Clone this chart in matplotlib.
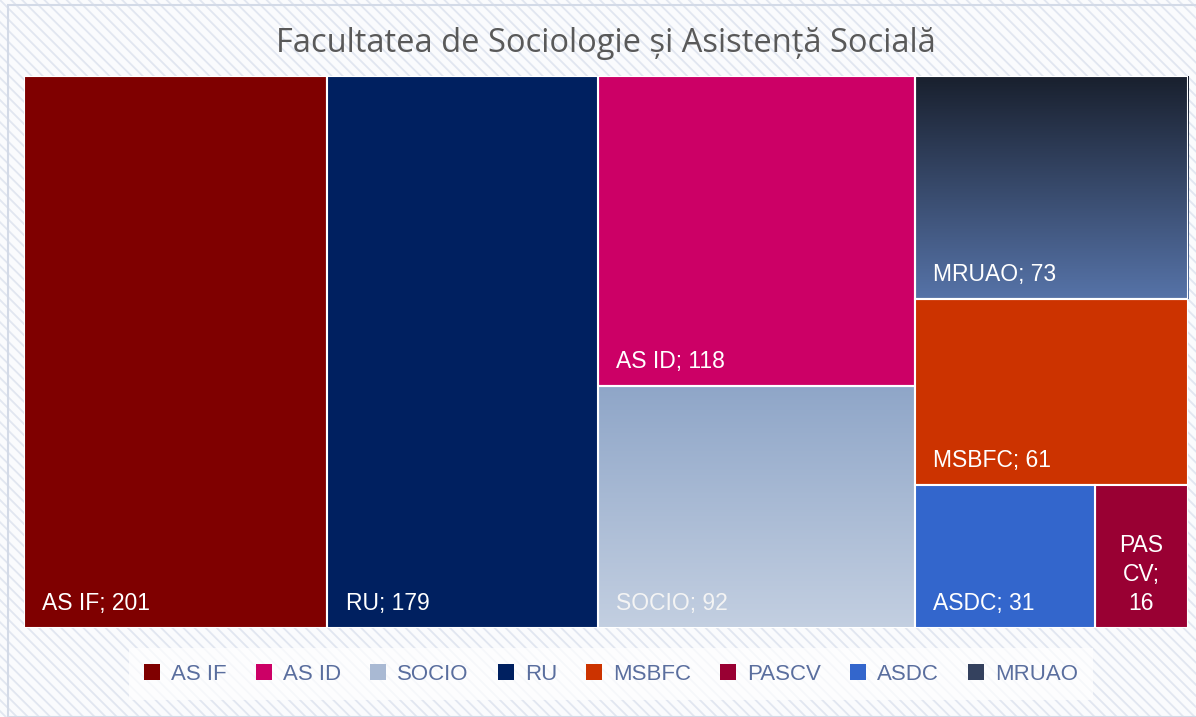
import matplotlib.pyplot as plt
from matplotlib.patches import Rectangle, Patch
import numpy as np

plt.rcParams['font.family'] = ['Liberation Sans', 'DejaVu Sans']
plt.rcParams['hatch.linewidth'] = 1.3

# data
names = ["AS IF", "AS ID", "SOCIO", "RU", "MSBFC", "PASCV", "ASDC", "MRUAO"]
values = [201, 118, 92, 179, 61, 16, 31, 73]
colors = ["#7F0000", "#CC0066", "#A9B9D3", "#002060", "#CC3300", "#990033", "#3366CC", "#34415E"]
tile_labels = ["AS IF; 201", "AS ID; 118", "SOCIO; 92", "RU; 179", "MSBFC; 61",
               "PAS\nCV;\n16", "ASDC; 31", "MRUAO; 73"]
# gradient tiles: top colour, bottom colour
gradients = {"SOCIO": ("#8FA6C8", "#C3CFE1"), "MRUAO": ("#19202E", "#5673A8")}
# how Excel grouped the tiles (columns, then rows, then columns)
tree = [["AS IF"], ["RU"], ["AS ID", "SOCIO"], ["MRUAO", "MSBFC", ["ASDC", "PASCV"]]]

val = dict(zip(names, values))
col = dict(zip(names, colors))
lab = dict(zip(names, tile_labels))


def total(node):
    if isinstance(node, str):
        return val[node]
    return sum(total(c) for c in node)


def layout(node, x0, y0, x1, y1, horiz, out):
    if isinstance(node, str):
        out[node] = (x0, y0, x1, y1)
        return
    s = total(node)
    if horiz:
        x = x0
        for c in node:
            w = (x1 - x0) * total(c) / s
            layout(c, x, y0, x + w, y1, not horiz, out)
            x += w
    else:
        y = y1
        for c in node:
            h = (y1 - y0) * total(c) / s
            layout(c, x0, y - h, x1, y, not horiz, out)
            y -= h


W, H = 1196, 717
fig = plt.figure(figsize=(W / 100, H / 100), dpi=100)
fig.patch.set_facecolor("#FAFBFD")
fig.patches.append(Rectangle((0, 0), 1, 1, transform=fig.transFigure, facecolor="#FAFBFD",
                             edgecolor="#E1E6F0", hatch="\\\\\\", linewidth=0, zorder=-10))
fig.patches.append(Rectangle((8 / W, 0), 1, 1 - 5 / H, transform=fig.transFigure, facecolor="none",
                             edgecolor="#D3DAE7", linewidth=1.5, zorder=-9))

ax = fig.add_axes([24 / W, 1 - 628 / H, 1164 / W, 552 / H])
ax.set_xlim(0, 1)
ax.set_ylim(0, 1)
ax.axis("off")

rects = {}
layout(tree, 0, 0, 1, 1, True, rects)

for n in names:
    x0, y0, x1, y1 = rects[n]
    if n in gradients:
        top, bot = gradients[n]
        c1 = np.array(plt.matplotlib.colors.to_rgb(top))
        c2 = np.array(plt.matplotlib.colors.to_rgb(bot))
        t = np.linspace(0, 1, 256)[:, None]
        img = (c1 * (1 - t) + c2 * t)[:, None, :]
        ax.imshow(img, extent=(x0, x1, y0, y1), aspect="auto", origin="upper", zorder=1)
        ax.add_patch(Rectangle((x0, y0), x1 - x0, y1 - y0, facecolor="none",
                               edgecolor="white", linewidth=1.5, zorder=2))
    else:
        ax.add_patch(Rectangle((x0, y0), x1 - x0, y1 - y0, facecolor=col[n],
                               edgecolor="white", linewidth=1.5, zorder=2))
    if "\n" in lab[n]:
        ax.annotate(lab[n], ((x0 + x1) / 2, y0), xytext=(0, 13), textcoords="offset points",
                    ha="center", va="baseline", color="white", fontsize=16.5, linespacing=1.32, zorder=3)
    else:
        ax.annotate(lab[n], (x0, y0), xytext=(13, 13), textcoords="offset points",
                    ha="left", va="baseline", color="#F4F4F4" if n == "SOCIO" else "white",
                    fontsize=16.5, zorder=3)

ax.set_ylim(0, 1)
ax.set_xlim(0, 1)

fig.text(606 / W, 1 - 43 / H, "Facultatea de Sociologie și Asistență Socială",
         ha="center", va="center", fontsize=23.5, color="#595959", family=["Open Sans", "DejaVu Sans"])

handles = [Patch(facecolor=col[n], edgecolor="none") for n in names]
leg = fig.legend(handles, names, loc="center", bbox_to_anchor=(611 / W, 1 - 674 / H), ncol=8,
                 frameon=True, fontsize=16, handlelength=0.72, handleheight=0.72,
                 handletextpad=0.5, columnspacing=1.3, borderpad=0.7, fancybox=False)
leg.get_frame().set_facecolor("white")
leg.get_frame().set_alpha(0.7)
leg.get_frame().set_edgecolor("none")
for t in leg.get_texts():
    t.set_color("#5A6E9E")

fig.savefig("out.png", dpi=100, facecolor=fig.get_facecolor())
